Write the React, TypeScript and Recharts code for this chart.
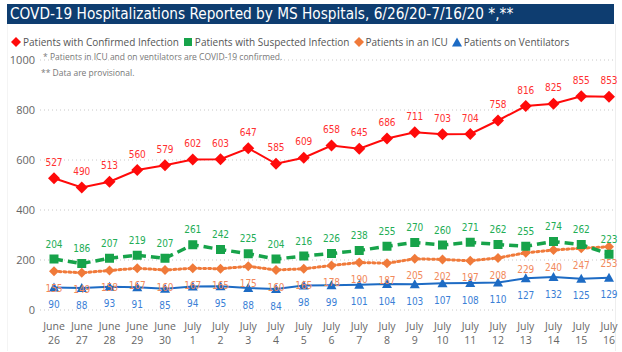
import React from "react";
import { LineChart, Line, XAxis, YAxis, CartesianGrid, LabelList } from "recharts";

const months = ["June","June","June","June","June","July","July","July","July","July","July","July","July","July","July","July","July","July","July","July","July"];
const days = ["26","27","28","29","30","1","2","3","4","5","6","7","8","9","10","11","12","13","14","15","16"];
const confirmed = [527,490,513,560,579,602,603,647,585,609,658,645,686,711,703,704,758,816,825,855,853];
const suspected = [204,186,207,219,207,261,242,225,204,216,226,238,255,270,260,271,262,255,274,262,223];
const icu = [155,149,158,167,160,167,165,175,160,165,178,190,187,205,202,197,208,229,240,247,253];
const vent = [90,88,93,91,85,94,95,88,84,98,99,101,104,103,107,108,110,127,132,125,129];
const yTicks = [0,200,400,600,800,1000];

const data = days.map((d, i) => ({
  cat: months[i] + " " + d,
  confirmed: confirmed[i],
  suspected: suspected[i],
  icu: icu[i],
  vent: vent[i],
}));

const C_RED = "#ff0a0a";
const C_GREEN = "#17a34a";
const C_ORANGE = "#f07a3a";
const C_BLUE = "#1d6bc4";
const LABEL_FONT = "'DejaVu Sans Condensed', 'Liberation Sans Narrow', Roboto, sans-serif";

const Diamond = (color: string, r: number) => (p: any) => {
  const { cx, cy, index } = p;
  if (cx == null || cy == null) return <g key={index} />;
  return <path key={index} d={`M${cx},${cy - r} L${cx + r},${cy} L${cx},${cy + r} L${cx - r},${cy} Z`} fill={color} />;
};
const Square = (color: string, s: number) => (p: any) => {
  const { cx, cy, index } = p;
  if (cx == null || cy == null) return <g key={index} />;
  return <rect key={index} x={cx - s} y={cy - s} width={2 * s} height={2 * s} fill={color} />;
};
const Triangle = (color: string, r: number) => (p: any) => {
  const { cx, cy, index } = p;
  if (cx == null || cy == null) return <g key={index} />;
  return <path key={index} d={`M${cx},${cy - r} L${cx + r},${cy + r * 0.8} L${cx - r},${cy + r * 0.8} Z`} fill={color} />;
};

const makeLabel = (color: string, dy: number) => (p: any) => {
  const { x, y, value, index } = p;
  return (
    <text key={index} x={x} y={y + dy} fill={color} fontSize={10} fontFamily={LABEL_FONT} textAnchor="middle" dominantBaseline="central">
      {value}
    </text>
  );
};

const XTick = (p: any) => {
  const { x, y, payload } = p;
  const parts = String(payload.value).split(" ");
  return (
    <text x={x} y={y} fill="#666" fontSize={10.5} fontFamily="'Open Sans', sans-serif" textAnchor="middle">
      <tspan x={x} dy={12}>{parts[0]}</tspan>
      <tspan x={x} dy={14}>{parts[1]}</tspan>
    </text>
  );
};

const legendItems = [
  { label: "Patients with Confirmed Infection", color: C_RED, shape: "diamond" },
  { label: "Patients with Suspected Infection", color: C_GREEN, shape: "square" },
  { label: "Patients in an ICU", color: C_ORANGE, shape: "diamond" },
  { label: "Patients on Ventilators", color: C_BLUE, shape: "triangle" },
];

const LegendIcon = ({ shape, color }: { shape: string; color: string }) => (
  <svg width={10} height={10} style={{ marginRight: 2, verticalAlign: "middle" }}>
    {shape === "diamond" && <path d="M5,0 L10,5 L5,10 L0,5 Z" fill={color} />}
    {shape === "square" && <rect x={1} y={1} width={8} height={8} fill={color} />}
    {shape === "triangle" && <path d="M5,0.5 L10,9.5 L0,9.5 Z" fill={color} />}
  </svg>
);

export default function App() {
  return (
    <div style={{ position: "absolute", left: 0, top: 0, width: 622, height: 352, background: "#fff", overflow: "hidden" }}>
      <div style={{ position: "absolute", left: 7, top: 4, width: 607, height: 20, background: "#0e3d70" }} />
      <div style={{ position: "absolute", left: 10, top: 4, height: 20, lineHeight: "20px", color: "#fff", fontSize: 16, fontFamily: LABEL_FONT, whiteSpace: "nowrap", transform: "scaleX(0.95)", transformOrigin: "left center" }}>
        COVD-19 Hospitalizations Reported by MS Hospitals, 6/26/20-7/16/20 *,**
      </div>
      <div style={{ position: "absolute", left: 7, top: 24, width: 607, height: 327, borderRight: "1px solid #eee", borderLeft: "1px solid #f4f4f4" }} />
      <div style={{ position: "absolute", left: 11, top: 35, height: 14, display: "flex", alignItems: "center", fontSize: 10, fontFamily: "'Open Sans', sans-serif", color: "#555", whiteSpace: "nowrap" }}>
        {legendItems.map((it) => (
          <span key={it.label} style={{ display: "inline-flex", alignItems: "center", marginRight: 4 }}>
            <LegendIcon shape={it.shape} color={it.color} />
            {it.label}
          </span>
        ))}
      </div>
      <div style={{ position: "absolute", left: 43, top: 51, fontSize: 8.5, fontFamily: "'Open Sans', sans-serif", color: "#777", whiteSpace: "nowrap" }}>
        * Patients in ICU and on ventilators are COVID-19 confirmed.
      </div>
      <div style={{ position: "absolute", left: 41, top: 67, fontSize: 8.5, fontFamily: "'Open Sans', sans-serif", color: "#777", whiteSpace: "nowrap" }}>
        ** Data are provisional.
      </div>
      <div style={{ position: "absolute", left: 0, top: 0 }}>
        <LineChart width={622} height={352} data={data} margin={{ top: 60, right: 8, bottom: 0, left: 0 }}>
          <CartesianGrid vertical={false} stroke="#c8c8c8" strokeDasharray="1 3" />
          <XAxis dataKey="cat" axisLine={false} tickLine={false} interval={0} height={42} padding={{ left: 14, right: 5 }} tick={<XTick />} />
          <YAxis domain={[0, 1000]} ticks={yTicks} axisLine={false} tickLine={false} width={40} tickSize={3} tickMargin={2} tick={{ fill: "#666", fontSize: 11, fontFamily: "'Open Sans', sans-serif" }} />
          <Line dataKey="vent" stroke={C_BLUE} strokeWidth={2} isAnimationActive={false} dot={Triangle(C_BLUE, 5)} activeDot={false}>
            <LabelList dataKey="vent" content={makeLabel("#3b7fd6", 17)} />
          </Line>
          <Line dataKey="icu" stroke={C_ORANGE} strokeWidth={3} strokeDasharray="2 3" strokeLinecap="round" isAnimationActive={false} dot={Diamond(C_ORANGE, 5)} activeDot={false}>
            <LabelList dataKey="icu" content={makeLabel("#f28a5c", 17)} />
          </Line>
          <Line dataKey="suspected" stroke={C_GREEN} strokeWidth={3.5} strokeDasharray="9 5" isAnimationActive={false} dot={Square(C_GREEN, 4.5)} activeDot={false}>
            <LabelList dataKey="suspected" content={makeLabel("#22ad55", -15)} />
          </Line>
          <Line dataKey="confirmed" stroke={C_RED} strokeWidth={2} isAnimationActive={false} dot={Diamond(C_RED, 6)} activeDot={false}>
            <LabelList dataKey="confirmed" content={makeLabel("#ff3030", -16)} />
          </Line>
        </LineChart>
      </div>
    </div>
  );
}
